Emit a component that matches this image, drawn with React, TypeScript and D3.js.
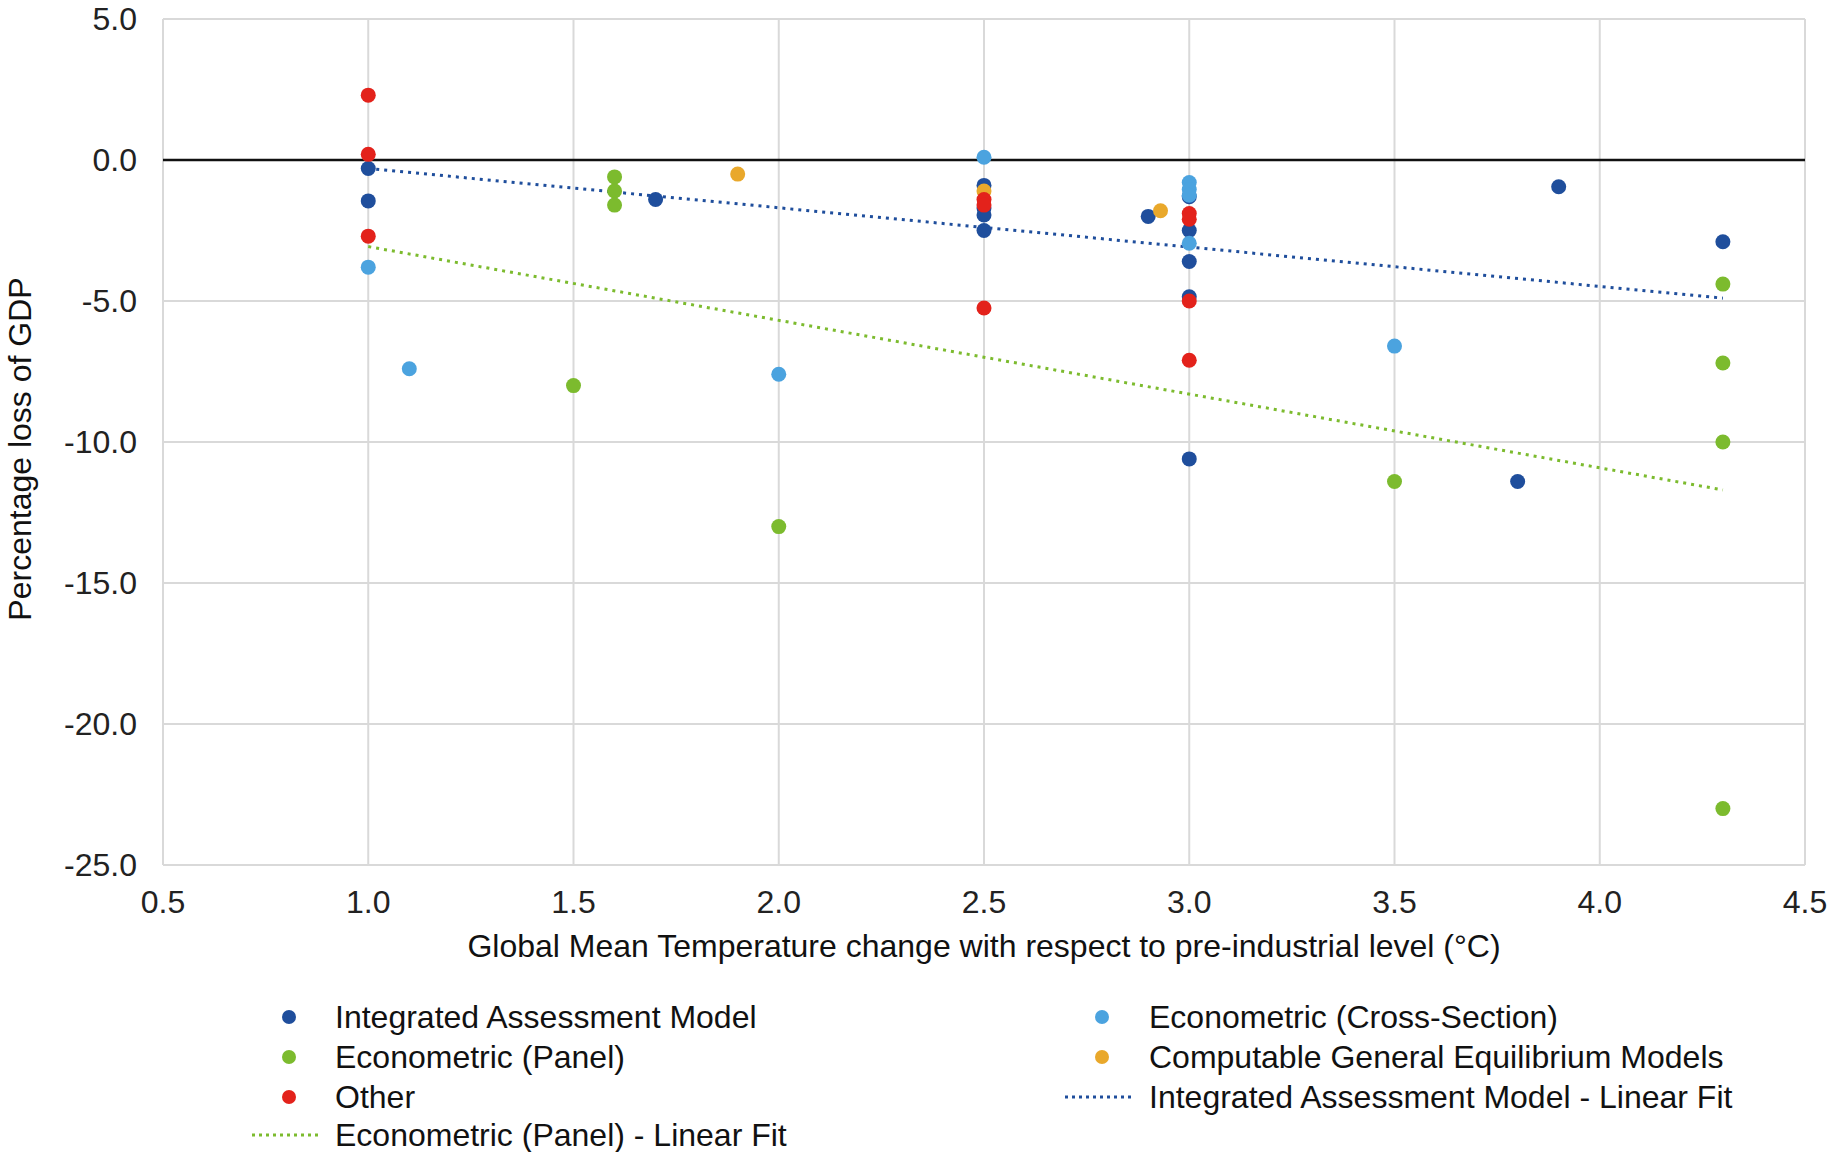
import React from "react";
import * as d3 from "d3";

const xTicks = [0.5, 1.0, 1.5, 2.0, 2.5, 3.0, 3.5, 4.0, 4.5];
const yTicks = [5, 0, -5, -10, -15, -20, -25];

const iamX = [1.0, 1.0, 1.7, 2.5, 2.5, 2.5, 2.5, 2.9, 3.0, 3.0, 3.0, 3.0, 3.0, 3.8, 3.9, 4.3];
const iamY = [-0.3, -1.45, -1.4, -0.9, -1.7, -1.95, -2.5, -2.0, -1.3, -2.5, -3.6, -4.85, -10.6, -11.4, -0.95, -2.9];

const panelX = [1.5, 1.6, 1.6, 1.6, 2.0, 3.5, 4.3, 4.3, 4.3, 4.3];
const panelY = [-8.0, -0.6, -1.1, -1.6, -13.0, -11.4, -4.4, -7.2, -10.0, -23.0];

const crossX = [1.0, 1.1, 2.0, 2.5, 3.0, 3.0, 3.0, 3.0, 3.5];
const crossY = [-3.8, -7.4, -7.6, 0.1, -0.8, -1.05, -1.25, -2.95, -6.6];

const cgeX = [1.9, 2.5, 2.93];
const cgeY = [-0.5, -1.1, -1.8];

const otherX = [1.0, 1.0, 1.0, 2.5, 2.5, 2.5, 3.0, 3.0, 3.0, 3.0];
const otherY = [2.3, 0.2, -2.7, -1.4, -1.6, -5.25, -1.9, -2.1, -5.0, -7.1];

const iamFitX = [1.0, 4.3];
const iamFitY = [-0.3, -4.9];
const panelFitX = [1.0, 4.3];
const panelFitY = [-3.07, -11.7];

const C_IAM = "#1f4e9c";
const C_PANEL = "#7cbb2e";
const C_CROSS = "#4ba3df";
const C_CGE = "#e9a82b";
const C_OTHER = "#e3221b";

const FONT = "'Liberation Sans', Arial, sans-serif";
const FS = 32;

export default function App() {
  const W = 1829, H = 1152;
  const left = 163, right = 1805, top = 19, bottom = 865;
  const x = d3.scaleLinear().domain([0.5, 4.5]).range([left, right]);
  const y = d3.scaleLinear().domain([-25, 5]).range([bottom, top]);
  const line = d3.line<[number, number]>().x((d) => x(d[0])).y((d) => y(d[1]));
  const fmt = (t: number) => d3.format(".1f")(t).replace("\u2212", "-");

  const series = [
    { xs: iamX, ys: iamY, c: C_IAM },
    { xs: panelX, ys: panelY, c: C_PANEL },
    { xs: crossX, ys: crossY, c: C_CROSS },
    { xs: cgeX, ys: cgeY, c: C_CGE },
    { xs: otherX, ys: otherY, c: C_OTHER },
  ];

  const legendCol1 = [
    { label: "Integrated Assessment Model", c: C_IAM, type: "dot" },
    { label: "Econometric (Panel)", c: C_PANEL, type: "dot" },
    { label: "Other", c: C_OTHER, type: "dot" },
    { label: "Econometric (Panel) - Linear Fit", c: C_PANEL, type: "line" },
  ];
  const legendCol2 = [
    { label: "Econometric (Cross-Section)", c: C_CROSS, type: "dot" },
    { label: "Computable General Equilibrium Models", c: C_CGE, type: "dot" },
    { label: "Integrated Assessment Model - Linear Fit", c: C_IAM, type: "line" },
  ];
  const rowsY = [1017, 1057, 1097, 1135];

  const renderLegend = (items: any[], mx: number, tx: number) =>
    items.map((it, i) => (
      <g key={it.label}>
        {it.type === "dot" ? (
          <circle cx={mx} cy={rowsY[i]} r={7} fill={it.c} />
        ) : (
          <line x1={mx - 37} x2={mx + 33} y1={rowsY[i]} y2={rowsY[i]} stroke={it.c} strokeWidth={3} strokeDasharray="3 4" />
        )}
        <text x={tx} y={rowsY[i]} dy="0.35em" fontSize={FS} fontFamily={FONT} fill="#111">
          {it.label}
        </text>
      </g>
    ));

  return (
    <svg width={W} height={H} style={{ position: "absolute", left: 0, top: 0, background: "#fff" }}>
      <rect width={W} height={H} fill="#fff" />
      {xTicks.map((t) => (
        <line key={"vx" + t} x1={x(t)} x2={x(t)} y1={top} y2={bottom} stroke="#d9d9d9" strokeWidth={2} />
      ))}
      {yTicks.map((t) => (
        <line key={"hy" + t} x1={left} x2={right} y1={y(t)} y2={y(t)} stroke={t === 0 ? "#111" : "#d9d9d9"} strokeWidth={t === 0 ? 2.5 : 2} />
      ))}
      {yTicks.map((t) => (
        <text key={"yl" + t} x={left - 26} y={y(t)} dy="0.35em" textAnchor="end" fontSize={FS} fontFamily={FONT} fill="#222">
          {fmt(t)}
        </text>
      ))}
      {xTicks.map((t) => (
        <text key={"xl" + t} x={x(t)} y={bottom + 37} dy="0.35em" textAnchor="middle" fontSize={FS} fontFamily={FONT} fill="#222">
          {fmt(t)}
        </text>
      ))}
      <text x={984} y={946} dy="0.35em" textAnchor="middle" fontSize={FS} fontFamily={FONT} fill="#111">
        Global Mean Temperature change with respect to pre-industrial level (°C)
      </text>
      <text transform={`translate(20,449) rotate(-90)`} dy="0.35em" textAnchor="middle" fontSize={FS} fontFamily={FONT} fill="#111">
        Percentage loss of GDP
      </text>

      <path d={line(iamFitX.map((v, i) => [v, iamFitY[i]]) as any) || ""} fill="none" stroke={C_IAM} strokeWidth={3} strokeDasharray="3 5" />
      <path d={line(panelFitX.map((v, i) => [v, panelFitY[i]]) as any) || ""} fill="none" stroke={C_PANEL} strokeWidth={3} strokeDasharray="3 5" />

      {series.map((s, si) =>
        s.xs.map((v, i) => <circle key={si + "-" + i} cx={x(v)} cy={y(s.ys[i])} r={7.5} fill={s.c} />)
      )}

      {renderLegend(legendCol1, 289, 335)}
      {renderLegend(legendCol2, 1102, 1149)}
    </svg>
  );
}
